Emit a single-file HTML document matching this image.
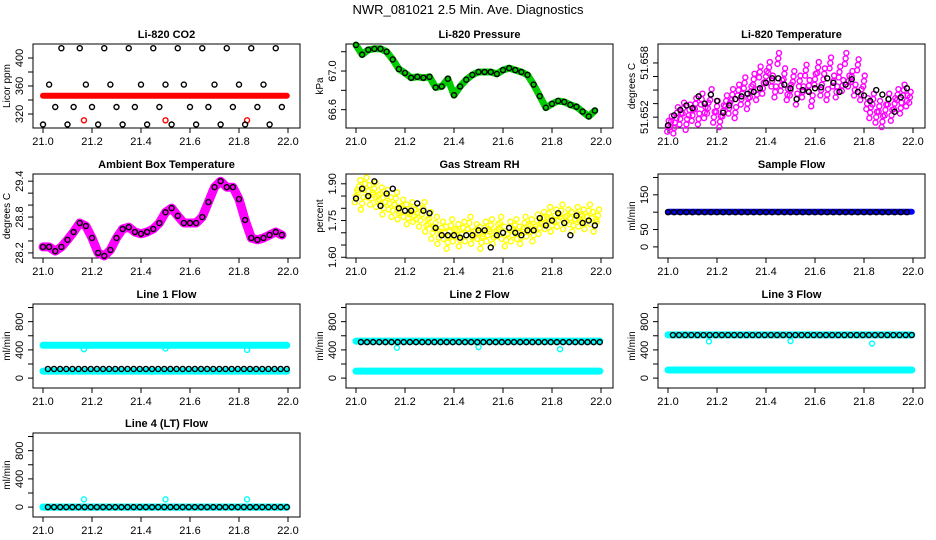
<!DOCTYPE html>
<html><head><meta charset="utf-8"><style>
body{margin:0;background:#fff;}
svg{display:block;font-family:"Liberation Sans",sans-serif;}
</style></head><body>
<svg id="c" width="936" height="540" xmlns="http://www.w3.org/2000/svg">
<rect width="936" height="540" fill="#fff"/>
<text x="468" y="14" text-anchor="middle" font-size="13">NWR_081021  2.5 Min. Ave. Diagnostics</text>
</svg>
<script>
const xTicks=[21.0,21.2,21.4,21.6,21.8,22.0];
const xTickLabels=["21.0","21.2","21.4","21.6","21.8","22.0"];
const blackStart=21.0, blackStep=0.025, denseStep=0.0125;
const co2Black=[305,362,330,414,305,330,414,362,330,305,414,362,330,305,414,330,362,305,414,330,362,305,414,362,330,305,414,330,362,305,414,330,362,305,414,330,362,305,414,330];
const co2Red=[346];
const co2RedOutX=[21.167,21.5,21.833];
const co2RedOut=[311,311,311];
const presBlack=[67.27,67.17,67.22,67.23,67.23,67.20,67.12,67.02,66.98,66.93,66.94,66.93,66.94,66.83,66.84,66.92,66.75,66.84,66.91,66.96,66.99,66.99,66.99,66.97,67.01,67.03,67.01,66.99,66.96,66.86,66.74,66.62,66.66,66.69,66.68,66.65,66.63,66.58,66.53,66.59];
const tempBlack=[51.6511,51.6522,51.6528,51.6533,51.6530,51.6543,51.6535,51.6545,51.6538,51.6525,51.6533,51.6540,51.6543,51.6546,51.6548,51.6552,51.6558,51.6563,51.6563,51.6556,51.6552,51.6540,51.6550,51.6548,51.6552,51.6553,51.6563,51.6558,51.6548,51.6556,51.6562,51.6548,51.6544,51.6538,51.6550,51.6545,51.6540,51.6526,51.6542,51.6552];
const tempMagenta=[51.6510,51.6515,51.6508,51.6525,51.6518,51.6530,51.6512,51.6528,51.6522,51.6535,51.6518,51.6540,51.6525,51.6530,51.6545,51.6520,51.6532,51.6515,51.6527,51.6538,51.6530,51.6545,51.6525,51.6550,51.6540,51.6558,51.6535,51.6548,51.6562,51.6545,51.6570,51.6552,51.6565,51.6575,51.6560,51.6548,51.6585,51.6555,51.6568,51.6545,51.6550,51.6565,51.6540,51.6560,51.6548,51.6572,51.6555,51.6538,51.6562,51.6575,51.6550,51.6568,51.6545,51.6580,51.6560,51.6548,51.6570,51.6555,51.6585,51.6560,51.6565,51.6550,51.6578,51.6545,51.6560,51.6535,51.6525,51.6540,51.6520,51.6532,51.6515,51.6528,51.6540,51.6522,51.6535,51.6545,51.6530,51.6550,51.6538,51.6542];
const ambBlack=[28.3,28.3,28.23,28.3,28.42,28.55,28.7,28.65,28.45,28.2,28.15,28.25,28.45,28.6,28.63,28.55,28.52,28.55,28.6,28.7,28.88,28.95,28.82,28.7,28.7,28.7,28.8,29.05,29.3,29.4,29.3,29.3,29.1,28.75,28.45,28.42,28.45,28.5,28.55,28.5];
const rhBlack=[1.84,1.88,1.85,1.91,1.81,1.86,1.88,1.80,1.79,1.79,1.82,1.79,1.78,1.72,1.69,1.69,1.69,1.68,1.69,1.69,1.71,1.71,1.64,1.69,1.70,1.72,1.70,1.69,1.71,1.71,1.76,1.73,1.75,1.78,1.74,1.69,1.77,1.74,1.75,1.73];
const rhYellow=[1.85,1.89,1.82,1.90,1.87,1.84,1.88,1.83,1.86,1.80,1.85,1.82,1.79,1.84,1.78,1.81,1.79,1.76,1.80,1.77,1.78,1.75,1.80,1.73,1.76,1.70,1.74,1.68,1.72,1.70,1.66,1.73,1.69,1.71,1.67,1.72,1.69,1.74,1.68,1.71,1.70,1.66,1.72,1.69,1.73,1.68,1.71,1.74,1.70,1.67,1.72,1.69,1.73,1.70,1.68,1.74,1.71,1.73,1.69,1.75,1.72,1.76,1.74,1.78,1.73,1.77,1.75,1.79,1.74,1.77,1.76,1.73,1.78,1.75,1.77,1.74,1.79,1.76,1.73,1.77];
const sampleBlack=[100], sampleBlue=[101];
const line1Black=[130], line1Cyan=[465], line1CyanLow=[100], line1Out=[410,420,400];
const line2Black=[510], line2Cyan=[525], line2CyanLow=[100], line2Out=[430,440,410];
const line3Black=[610], line3Cyan=[612], line3CyanLow=[115], line3Out=[520,525,490];
const line4Black=[0], line4Cyan=[0], line4CyanLow=[0], line4Out=[110,110,110];
const outX=[21.167,21.5,21.833];

const NS="http://www.w3.org/2000/svg";
const svg=document.getElementById('c');
function mk(tag,attrs,parent){const e=document.createElementNS(NS,tag);for(const k in attrs)e.setAttribute(k,attrs[k]);(parent||svg).appendChild(e);return e;}
const colX=[33,346,658], rowY=[44,174,304,433], bw=267, bh=84;
function panel(col,row,title,ylab,ymin,ymax,yt,ytl,name){
  const L=colX[col],T=rowY[row];
  const g=mk('g',{});
  
  
  const sx=v=>L+10+(v-21)*(bw-20-2)/1.0;
  const sy=v=>T+bh-(v-ymin)/(ymax-ymin)*bh;
  const t=mk('text',{x:L+bw/2,y:T-6,'text-anchor':'middle','font-size':11,'font-weight':'bold'},g);t.textContent=title;
  
  
  const b=mk('rect',{x:L,y:T,width:bw,height:bh,fill:'none',stroke:'#000','stroke-width':1},g);
  
  
  xTicks.forEach((v,i)=>{mk('line',{x1:sx(v),x2:sx(v),y1:T+bh,y2:T+bh+5,stroke:'#000'},g);
    const l=mk('text',{x:sx(v),y:T+bh+17,'text-anchor':'middle','font-size':11},g);l.textContent=xTickLabels[i];
    
    });
  yt.forEach((v,i)=>{mk('line',{x1:L-5,x2:L,y1:sy(v),y2:sy(v),stroke:'#000'},g);
    if(ytl[i]){const l=mk('text',{x:0,y:0,'text-anchor':'middle','font-size':11,transform:`translate(${L-10},${sy(v)}) rotate(-90)`},g);l.textContent=ytl[i];
    
    }});
  const yl=mk('text',{x:0,y:0,'text-anchor':'middle','font-size':10,transform:`translate(${L-23},${T+bh/2}) rotate(-90)`},g);yl.textContent=ylab;
  
  
  const cg=mk('g',{},g);
  return {g:cg,sx,sy};
}
function pts(p,xs,ys,color,r,sw){ys.forEach((v,i)=>{const c=mk('circle',{cx:p.sx(xs[i]),cy:p.sy(v),r:r||2.5,fill:'none',stroke:color,'stroke-width':sw||1.4},p.g);
  
  });}
function band(p,xs,ys,color,w){const d=ys.map((v,i)=>(i?'L':'M')+p.sx(xs[i]).toFixed(1)+' '+p.sy(v).toFixed(1)).join('');
  const e=mk('path',{d,fill:'none',stroke:color,'stroke-width':w,'stroke-linejoin':'round','stroke-linecap':'round'},p.g);
  
  }
const bx=n=>Array.from({length:n},(_,i)=>blackStart+i*blackStep);
const dx=n=>Array.from({length:n},(_,i)=>blackStart+i*denseStep);
const flat=(val,n)=>Array(n).fill(val[0]);
const B=bx(40);
// CO2
let p=panel(0,0,'Li-820 CO2','Licor ppm',300,420,[320,340,360,380,400],['320','','360','','400'],'co2-panel');
band(p,[21,21.995],flat(co2Red,2),'#f00',6);
pts(p,co2RedOutX,co2RedOut,'#f00');
pts(p,B,co2Black,'#000');
// Pressure
p=panel(1,0,'Li-820 Pressure','kPa',66.41,67.28,[66.6,66.8,67.0,67.2],['66.6','','67.0',''],'pressure-panel');
band(p,B,presBlack,'#0c0',7);
pts(p,B,presBlack,'#000');
// Li temp
p=panel(2,0,'Li-820 Temperature','degrees C',51.6508,51.6601,[51.652,51.6535,51.655,51.6565,51.658],['51.652','','','','51.658'],'li-temp-panel');
const DX=dx(80);
[-0.0006,0,0.0006].forEach((o,k)=>pts(p,DX.map(x=>x+(k-1)*0.003),tempMagenta.map(v=>v+o),'#f0f'));
pts(p,B,tempBlack,'#000');
// Ambient
p=panel(0,1,'Ambient Box Temperature','degrees C',28.115,29.52,[28.2,28.4,28.6,28.8,29.0,29.2,29.4],['28.2','','','28.8','','','29.4'],'ambient-temp-panel');
band(p,B,ambBlack,'#f0f',9);
pts(p,B,ambBlack,'#000');
// RH
p=panel(1,1,'Gas Stream RH','percent',1.597,1.94,[1.60,1.65,1.70,1.75,1.80,1.85,1.90],['1.60','','','1.75','','','1.90'],'rh-panel');
[-0.025,0,0.025].forEach((o,k)=>pts(p,DX.map(x=>x+(k-1)*0.005),rhYellow.map(v=>v+o),'#ff0'));
pts(p,B,rhBlack,'#000');
// Sample flow
p=panel(2,1,'Sample Flow','ml/min',-32,210,[0,50,100,150,200],['0','50','','150',''],'sample-flow-panel');
band(p,[21,21.995],flat(sampleBlue,2),'#00f',6);
pts(p,B,flat(sampleBlack,40),'#000');
// Flow panels
const fT=[0,200,400,600,800,1000], fL=['0','','400','','800',''];
function flowPanel(c,r,title,blk,cy,cyl,out,name){
  const q=panel(c,r,title,'ml/min',-140,1050,fT,fL,name);
  band(q,[21,21.995],flat(cy,2),'#0ff',7);
  band(q,[21,21.995],flat(cyl,2),'#0ff',7);
  pts(q,outX,out,'#0ff');
  pts(q,B.map(x=>x+0.02),flat(blk,40),'#000');
}
flowPanel(0,2,'Line 1 Flow',line1Black,line1Cyan,line1CyanLow,line1Out,'line1-flow-panel');
flowPanel(1,2,'Line 2 Flow',line2Black,line2Cyan,line2CyanLow,line2Out,'line2-flow-panel');
flowPanel(2,2,'Line 3 Flow',line3Black,line3Cyan,line3CyanLow,line3Out,'line3-flow-panel');
flowPanel(0,3,'Line 4 (LT) Flow',line4Black,line4Cyan,line4CyanLow,line4Out,'line4-flow-panel');
</script>
</body></html>
